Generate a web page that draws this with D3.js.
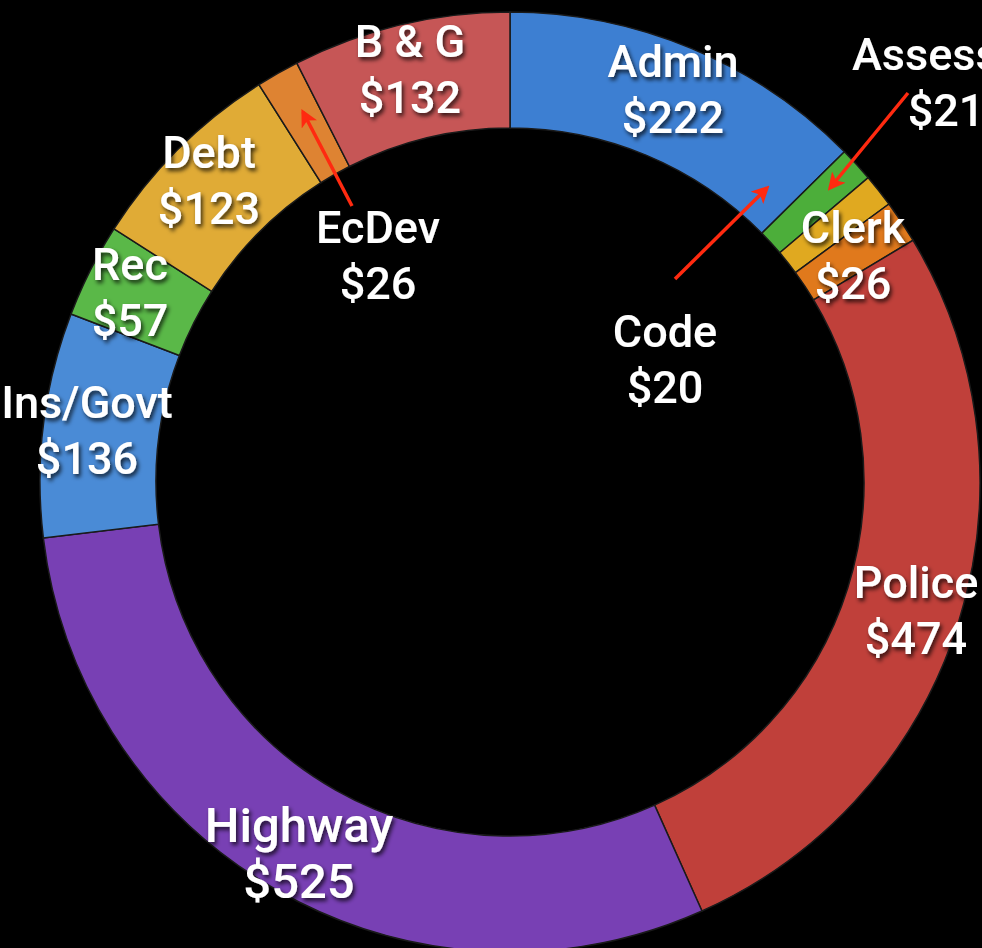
<!DOCTYPE html>
<html>
<head>
<meta charset="utf-8">
<script src="https://cdn.jsdelivr.net/npm/d3@7"></script>
<style>
  html, body { margin: 0; padding: 0; background: #000; overflow: hidden; }
  text { font-family: Roboto, "Noto Sans", sans-serif; font-weight: 500; fill: #fff; }
</style>
</head>
<body>
<div id="chart"></div>
<script>

// budget, clockwise from 12 o'clock
var categories = ["Admin", "Assessor", "Code", "Clerk", "Police", "Highway", "Ins/Govt", "Rec", "Debt", "EcDev", "B & G"];
var values = [222, 21, 20, 26, 474, 525, 136, 57, 123, 26, 132];
var colors = ["#3d7fd2", "#4cae3a", "#e0a920", "#e0791c", "#c0403a", "#7840b4", "#4a8bd6", "#5ab848", "#e0ab36", "#de8332", "#c65656"];

// label placement: [x centre, first baseline]
var labelLayout = {
    "Admin": [673, 77],
    "Assessor": [946, 70],
    "Code": [665, 347],
    "Clerk": [853, 243],
    "Police": [916, 598],
    "Highway": [299, 842],
    "Ins/Govt": [87, 418],
    "Rec": [130, 280],
    "Debt": [209, 168],
    "EcDev": [378, 243],
    "B & G": [410, 57]
};

// callout arrows: [tail, tip]
var callouts = [
    [[908, 93], [830, 188]],
    [[675, 279], [767, 188]],
    [[352, 206], [303, 112]]
];

var width = 982, height = 948;
var cx = 510, cy = 482, outerR = 470, innerR = 354;

var data = categories.map(function (c, i) {
    return {name: c, value: values[i], color: colors[i]};
});

var svg = d3.select("#chart")
    .append("svg")
    .attr("width", width)
    .attr("height", height);

svg.append("rect")
    .attr("width", width)
    .attr("height", height)
    .attr("fill", "#000");

var defs = svg.append("defs");

var shadow = defs.append("filter")
    .attr("id", "shadow")
    .attr("x", "-20%").attr("y", "-20%")
    .attr("width", "140%").attr("height", "140%");
shadow.append("feDropShadow")
    .attr("dx", 2).attr("dy", 3)
    .attr("stdDeviation", 2)
    .attr("flood-color", "#000")
    .attr("flood-opacity", 0.75);

var pie = d3.pie()
    .sort(null)
    .value(function (d) { return d.value; });

var arc = d3.arc()
    .innerRadius(innerR)
    .outerRadius(outerR);

var g = svg.append("g")
    .attr("transform", "translate(" + cx + "," + cy + ")");

g.selectAll("path.slice")
    .data(pie(data))
    .enter()
    .append("path")
    .attr("class", "slice")
    .attr("d", arc)
    .attr("fill", function (d) { return d.data.color; })
    .attr("stroke", "#1a1a1a")
    .attr("stroke-width", 1.5);

// arrows
defs.append("marker")
    .attr("id", "head")
    .attr("viewBox", "0 0 10 10")
    .attr("refX", 8).attr("refY", 5)
    .attr("markerWidth", 5).attr("markerHeight", 5)
    .attr("markerUnits", "strokeWidth")
    .attr("orient", "auto")
    .append("path")
    .attr("d", "M0,0 L10,5 L0,10 L2.5,5 Z")
    .attr("fill", "#ff2a10");

svg.selectAll("line.callout")
    .data(callouts)
    .enter()
    .append("line")
    .attr("class", "callout")
    .attr("x1", function (d) { return d[0][0]; })
    .attr("y1", function (d) { return d[0][1]; })
    .attr("x2", function (d) { return d[1][0]; })
    .attr("y2", function (d) { return d[1][1]; })
    .attr("stroke", "#ff2a10")
    .attr("stroke-width", 3.5)
    .attr("marker-end", "url(#head)");

// labels
var labels = svg.selectAll("text.label")
    .data(data)
    .enter()
    .append("text")
    .attr("class", "label")
    .attr("text-anchor", "middle")
    .attr("filter", "url(#shadow)")
    .style("font-size", function (d) { return d.name === "Highway" ? "49px" : "45px"; })
    .attr("transform", function (d) {
        var p = labelLayout[d.name];
        return "translate(" + p[0] + "," + p[1] + ")";
    });

labels.append("tspan")
    .attr("x", 0)
    .attr("y", 0)
    .text(function (d) { return d.name; });

labels.append("tspan")
    .attr("x", 0)
    .attr("y", 56)
    .text(function (d) { return "$" + d.value; });

</script>
</body>
</html>
